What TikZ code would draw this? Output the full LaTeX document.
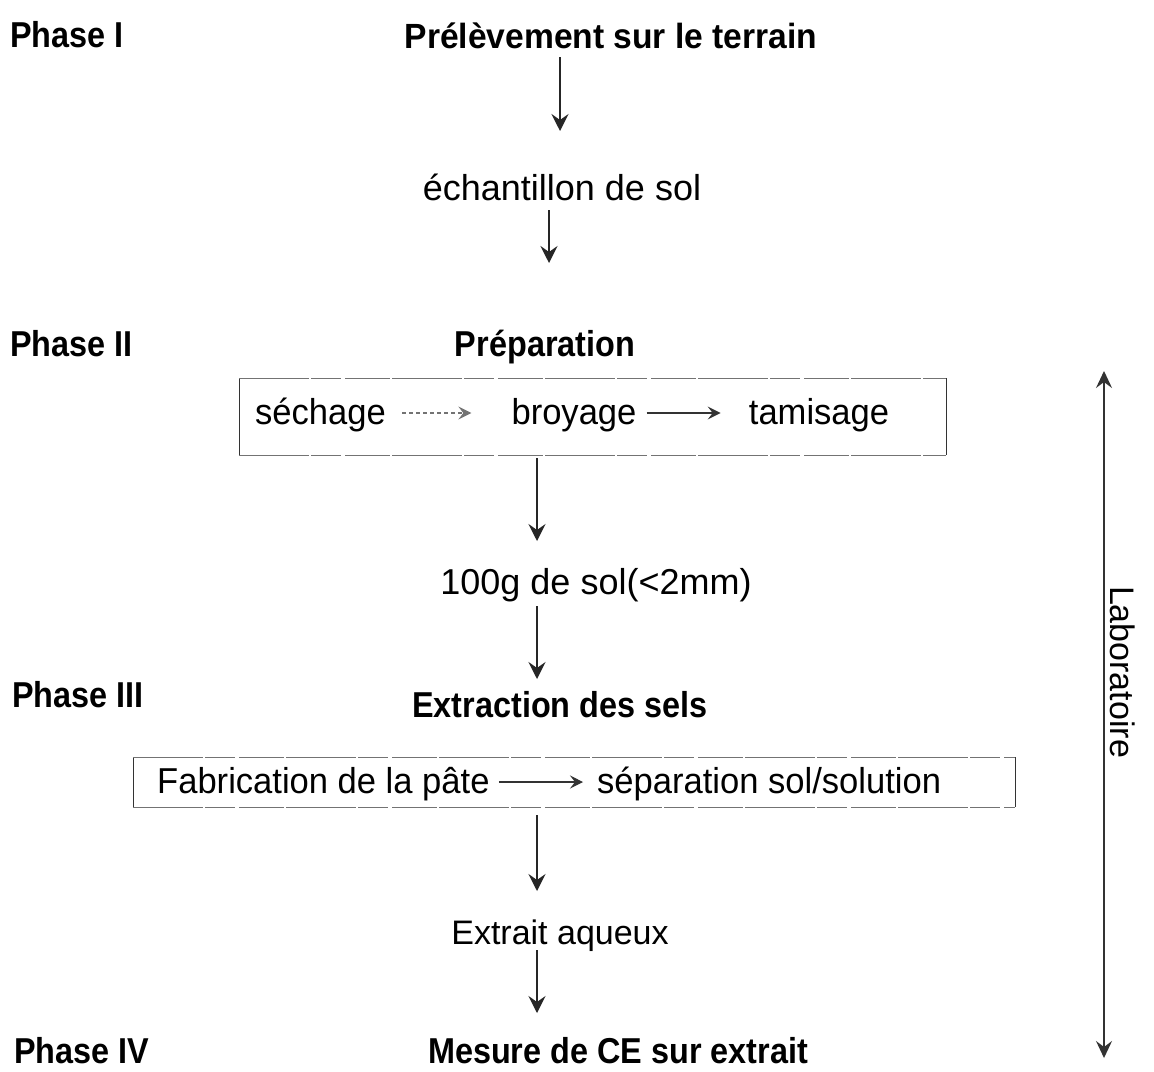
\documentclass[tikz,border=0pt]{standalone}
\usepackage{fontspec}
\setmainfont{Liberation Sans}
\newfontfamily\narrowfont[FakeStretch=0.9]{Liberation Sans}
\newfontfamily\slightfont[FakeStretch=0.96]{Liberation Sans}
\usetikzlibrary{arrows.meta}
\begin{document}
\begin{tikzpicture}[x=1pt,y=-1pt,
  phasehead/.style={inner sep=0pt,anchor=base west,font=\narrowfont\bfseries\fontsize{36}{40}\selectfont},
  headtxt/.style={inner sep=0pt,anchor=base,font=\narrowfont\bfseries\fontsize{36}{40}\selectfont},
  toptxt/.style={inner sep=0pt,anchor=base,font=\slightfont\bfseries\fontsize{35}{40}\selectfont},
  plaintxt/.style={inner sep=0pt,anchor=base,font=\fontsize{36}{40}\selectfont},
  boxtxt/.style={inner sep=0pt,anchor=base,font=\slightfont\fontsize{36}{40}\selectfont},
  flowarrow/.style={draw=black!85,line width=1.4pt,-{Stealth[length=17pt,width=17pt,inset=6pt]}},
  inarrow/.style={draw=black!80,line width=1.1pt,-{Stealth[length=13pt,width=13pt,inset=5pt]}},
  boxside/.style={draw=black!80,line width=1pt},
  boxedge/.style={draw=black!55,line width=1pt,dash pattern=on 70pt off 2pt on 30pt off 4pt on 45pt off 2pt},
  labarrow/.style={draw=black!80,line width=1.3pt,{Stealth[length=17pt,width=16pt,inset=6pt]}-{Stealth[length=17pt,width=16pt,inset=6pt]}}
]
\useasboundingbox[fill=white] (0,0) rectangle (1154,1071);

% phase labels
\node[phasehead] (ph1) at (10,47) {Phase I};
\node[phasehead] (ph2) at (10,356) {Phase II};
\node[phasehead] (ph3) at (12,707) {Phase III};
\node[phasehead] (ph4) at (14,1063) {Phase IV};

% main flow texts
\node[toptxt] (prel) at (611,48) {Prélèvement sur le terrain};
\node[plaintxt] (ech) at (562,200) {échantillon de sol};
\node[headtxt] (prep) at (545,356) {Préparation};
\node[boxtxt,anchor=base west] (sech) at (255,424) {séchage};
\node[boxtxt] (broy) at (574,424) {broyage};
\node[boxtxt] (tami) at (819,424) {tamisage};
\node[plaintxt] (cent) at (596,594) {100g de sol(<2mm)};
\node[headtxt] (extr) at (560,717) {Extraction des sels};
\node[boxtxt,anchor=base west] (fabr) at (157,793) {Fabrication de la pâte};
\node[boxtxt,anchor=base west] (sepa) at (597,793) {séparation sol/solution};
\node[plaintxt,font=\fontsize{34}{40}\selectfont] (aqu) at (560,944) {Extrait aqueux};
\node[headtxt] (mes) at (618,1063) {Mesure de CE sur extrait};

% boxes
\draw[boxside] (239,378) -- (239,455);
\draw[boxside] (946,378) -- (946,455);
\draw[boxedge] (239,378) -- (946,378);
\draw[boxedge] (239,455) -- (946,455);
\draw[boxside] (133,757) -- (133,807);
\draw[boxside] (1015,757) -- (1015,807);
\draw[boxedge] (133,757) -- (1015,757);
\draw[boxedge] (133,807) -- (1015,807);

% arrow coordinates
\coordinate (a1s) at (560,57);  \coordinate (a1e) at (560,131);
\coordinate (a2s) at (549,210); \coordinate (a2e) at (549,263);
\coordinate (a3s) at (537,458); \coordinate (a3e) at (537,541);
\coordinate (a4s) at (537,606); \coordinate (a4e) at (537,679);
\coordinate (a5s) at (537,815); \coordinate (a5e) at (537,891);
\coordinate (a6s) at (537,950); \coordinate (a6e) at (537,1013);

\draw[flowarrow] (a1s) -- (a1e);
\draw[flowarrow] (a2s) -- (a2e);
\draw[flowarrow] (a3s) -- (a3e);
\draw[flowarrow] (a4s) -- (a4e);
\draw[flowarrow] (a5s) -- (a5e);
\draw[flowarrow] (a6s) -- (a6e);

% in-box arrows
\draw[inarrow,draw=black!55,dash pattern=on 4pt off 3pt] ([xshift=16pt,yshift=11pt]sech.base east) -- ([xshift=-40pt,yshift=11pt]broy.base west);
\draw[inarrow] ([xshift=10pt,yshift=11pt]broy.base east) -- ([xshift=-28pt,yshift=11pt]tami.base west);
\draw[inarrow] ([xshift=9pt,yshift=11pt]fabr.base east) -- ([xshift=-14pt,yshift=11pt]sepa.base west);

% laboratoire
\coordinate (labtop) at (1104,371);
\coordinate (labbot) at (1104,1058);
\draw[labarrow] (labtop) -- (labbot);
\node[inner sep=0pt,rotate=-90,font=\fontsize{34}{40}\selectfont] (lab) at (1123,672) {Laboratoire};
\end{tikzpicture}
\end{document}
